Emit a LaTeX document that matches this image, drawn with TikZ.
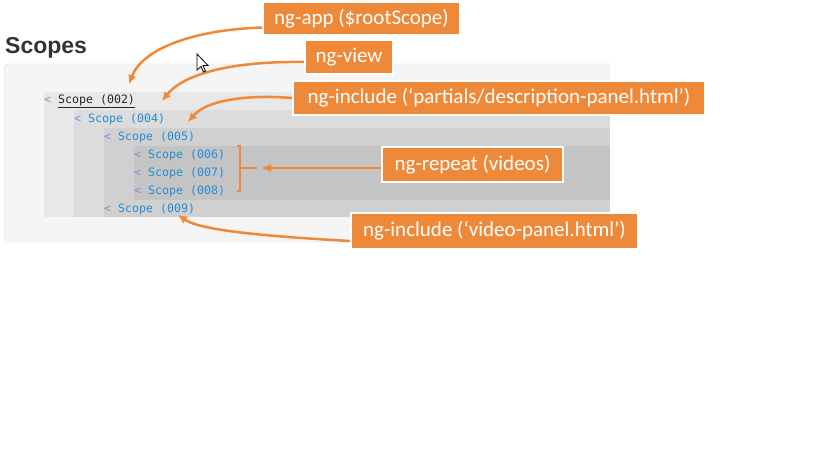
\documentclass[tikz,border=0pt]{standalone}
\usepackage{fontspec}
\setmainfont{Carlito}
\newfontfamily\headfont{Liberation Sans}
\newfontfamily\codefont{DejaVu Sans Mono}
\usetikzlibrary{arrows.meta}
\definecolor{ngorange}{RGB}{237,137,57}
\definecolor{panelbg}{RGB}{245,245,245}
\definecolor{panelline}{RGB}{214,214,214}
\definecolor{lvA}{RGB}{232,232,232}
\definecolor{lvB}{RGB}{220,220,220}
\definecolor{lvC}{RGB}{208,208,208}
\definecolor{lvD}{RGB}{196,196,196}
\definecolor{scopeblue}{RGB}{38,140,212}
\definecolor{caretblue}{RGB}{108,152,212}
\newcommand\caretmark{\textcolor{caretblue}{<}}

\begin{document}
\begin{tikzpicture}[x=1pt,y=-1pt, tag/.style={fill=ngorange,draw=white,line width=2pt,text=white,font=\fontsize{21}{25}\selectfont,inner sep=0pt,align=center}, row/.style={anchor=west,inner sep=0pt,font=\codefont\fontsize{11.6}{14}\selectfont,text=scopeblue}, arr/.style={ngorange,line width=2.5pt,-{Latex[length=9pt,width=8.5pt]}}]
\useasboundingbox (0,0) rectangle (819,460);
\node[anchor=base west,inner sep=0pt,font=\headfont\bfseries\fontsize{23}{28}\selectfont,text=black!80] (title) at (5,53.5) {Scopes};
\fill[panelbg] (4,68) rectangle (610,243) (8,64) rectangle (610,68) (8,68) circle[radius=4pt];
\draw[panelline,rounded corners=4pt] (4,243) -- (4,64) -- (610,64);
\fill[lvA] (44,92) rectangle (610,217);
\fill[lvB] (74,110) rectangle (610,217);
\fill[lvC] (104,128) rectangle (610,217);
\fill[lvD] (134,146) rectangle (610,200);
\node[row,text=black!85] (s002) at (44,101.5) {\caretmark{} \underline{Scope (002)}};
\node[row] (s004) at (74,119.5) {\caretmark{} Scope (004)};
\node[row] (s005) at (104,137.5) {\caretmark{} Scope (005)};
\foreach \n/\y in {006/155.5,007/173.5,008/191.5}
  \node[row] (s\n) at (134,\y) {\caretmark{} Scope (\n)};
\node[row] (s009) at (104,209.5) {\caretmark{} Scope (009)};
\draw[ngorange,line width=2.5pt] (237,146) -- (240,146) -- (240,191) -- (237,191) (240,168) -- (257,168);
\coordinate (tApp) at (129,84);
\coordinate (tView) at (162,101);
\coordinate (tDesc) at (188,122);
\coordinate (tRep) at (262,168);
\coordinate (tVid) at (178,215);
\node[tag,minimum width=197pt,minimum height=33pt] (app) at (361.5,18.5) {ng-app (\$rootScope)};
\node[tag,minimum width=88pt,minimum height=34pt] (view) at (349,57) {ng-view};
\node[tag,minimum width=412pt,minimum height=34pt] (desc) at (499,98) {ng-include (‘partials/description-panel.html’)};
\node[tag,minimum width=181pt,minimum height=35pt] (rep) at (472.5,164.5) {ng-repeat (videos)};
\node[tag,minimum width=287pt,minimum height=36pt] (vid) at (494.5,231) {ng-include (‘video-panel.html’)};
\draw[arr] ([yshift=-9pt]app.west) .. controls (190,30) and (142,50) .. (tApp);
\draw[arr] ([yshift=-5pt]view.west) .. controls (225,61) and (182,76) .. (tView);
\draw[arr] (desc.west) .. controls (240,94) and (205,102) .. (tDesc);
\draw[arr] ([yshift=-3.5pt]rep.west) -- (tRep);
\draw[arr] ([yshift=-10pt]vid.west) .. controls (260,236) and (200,230) .. (tVid);
\draw[black,fill=white,line width=0.8pt] (197,54) -- (197,70) -- (201,66.5) -- (203.5,72) -- (205.5,71) -- (203,65.5) -- (208,65.5) -- cycle;
\end{tikzpicture}
\end{document}
